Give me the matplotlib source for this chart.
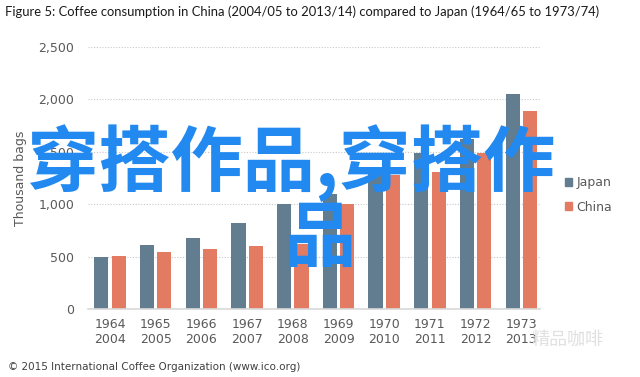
import matplotlib.pyplot as plt
import numpy as np
from matplotlib.patches import Patch

# Data (thousand bags)
japan_years = ["1964", "1965", "1966", "1967", "1968", "1969", "1970", "1971", "1972", "1973"]
china_years = ["2004", "2005", "2006", "2007", "2008", "2009", "2010", "2011", "2012", "2013"]
japan = [498, 615, 676, 823, 1005, 1100, 1300, 1486, 1620, 2051]
china = [510, 542, 577, 606, 622, 998, 1280, 1311, 1486, 1885]

c_japan = "#627d8f"
c_china = "#e27b62"

fig = plt.figure(figsize=(6.4, 3.77), dpi=100)
ax = fig.add_axes([0.1375, 0.1796, 0.7065, 0.6964])

x = np.arange(len(japan))
w = 0.31
ax.bar(x - 0.19, japan, w, color=c_japan, zorder=2)
ax.bar(x + 0.19, china, w, color=c_china, zorder=2)

ax.set_ylim(0, 2500)
ax.set_xlim(-0.48, 9.41)
ax.set_yticks([0, 500, 1000, 1500, 2000, 2500])
ax.set_yticklabels(["0", "500", "1,000", "1,500", "2,000", "2,500"])
ax.set_xticks(x)
ax.set_xticklabels([a + "\n" + b for a, b in zip(japan_years, china_years)])
ax.tick_params(length=0, colors="#595959", labelsize=9)
ax.tick_params(axis="y", pad=10)
ax.tick_params(axis="x", pad=6)
ax.grid(axis="y", color="#c8c8c8", linestyle=(0, (1, 1.5)), linewidth=0.8, zorder=0)
for s in ["top", "right", "left"]:
    ax.spines[s].set_visible(False)
ax.spines["bottom"].set_color("#d9d9d9")
ax.spines["bottom"].set_linewidth(1.2)
ax.set_ylabel("Thousand bags", color="#595959", fontsize=9)
ax.yaxis.set_label_coords(-0.135, 0.5)

ax.legend(handles=[Patch(color=c_japan, label="Japan"), Patch(color=c_china, label="China")],
          loc="center left", bbox_to_anchor=(1.03, 0.435), frameon=False,
          handlelength=0.6, handleheight=0.6, handletextpad=0.3, labelspacing=0.9,
          fontsize=9, labelcolor="#595959")

fig.text(0.008, 0.968, "Figure 5: Coffee consumption in China (2004/05 to 2013/14) compared to Japan (1964/65 to 1973/74)",
         fontsize=9.35, family="Lato", color="#1a1a1a", va="center")
fig.text(0.012, 0.027, "\u00a9 2015 International Coffee Organization (www.ico.org)",
         fontsize=7.5, color="#404040", va="center")

# faint watermark in bottom right
fig.text(0.83, 0.098, "精品咖啡", fontsize=13, family=["Noto Sans CJK SC", "DejaVu Sans"],
         color="#e0e0e0", va="center")

# big blue overlay text
cjk = ["Noto Sans CJK SC", "DejaVu Sans"]
fig.text(0.04, 0.567, "穿搭作品,穿搭作", fontsize=52, fontweight="bold",
         family=cjk, color="#2189f0", ha="left", va="center")
fig.text(0.50, 0.364, "品", fontsize=52, fontweight="bold",
         family=cjk, color="#2189f0", ha="center", va="center")

fig.savefig("out.png", dpi=100)
